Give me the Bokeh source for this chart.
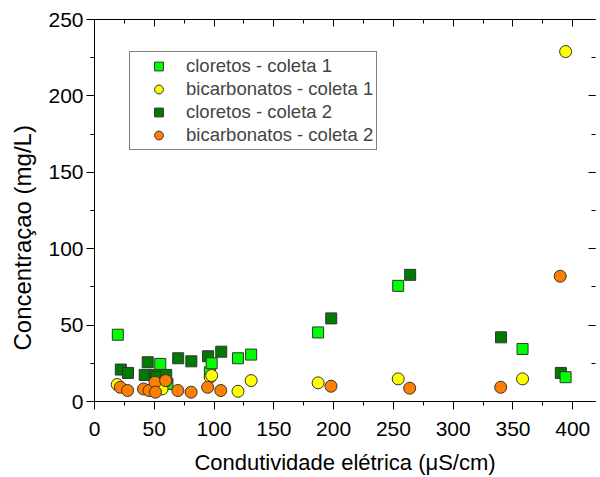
from bokeh.plotting import figure
from bokeh.models import (LinearAxis, SingleIntervalTicker, Range1d, Legend, LegendItem,
                          CustomLabelingPolicy, Title)
from bokeh.embed import file_html
from bokeh.resources import INLINE

# ---- data ----
c1_x = [19.5, 55, 61, 96.5, 98, 120, 131, 187, 254, 358, 394]
c1_cloretos = [43.7, 24.6, 11.5, 19.1, 25.0, 28.3, 30.7, 45.2, 75.7, 34.4, 15.9]
c1_x_bic = [19, 56.5, 60, 96.8, 98, 120, 131, 187, 254, 358, 394]
c1_bicarbonatos = [11.1, 8.2, 13.7, 15.9, 17.0, 6.7, 13.7, 12.2, 14.8, 14.8, 229]

c2_x = [22, 28, 42, 44.5, 50.5, 52, 60, 70, 81, 95, 106, 198, 264, 340, 390]
c2_cloretos = [20.9, 18.7, 17.4, 25.7, 17.4, 16.0, 17.4, 28.3, 26.3, 29.6, 32.6, 54.4, 82.9, 42.0, 18.7]
c2_x_bic = [21.6, 27.7, 41, 45.6, 50.6, 51, 59.5, 69.7, 80.8, 94.6, 105.6, 197.8, 263.6, 339.7, 389.5]
c2_bicarbonatos = [9.3, 7.2, 8.2, 7.2, 12.6, 6.1, 13.7, 7.2, 6.1, 9.3, 7.2, 10.0, 8.7, 9.3, 82.0]

labels = ["cloretos - coleta 1", "bicarbonatos - coleta 1",
          "cloretos - coleta 2", "bicarbonatos - coleta 2"]
x_label = "Condutividade elétrica (μS/cm)"
y_label = "Concentraçao (mg/L)"

FONT = "Liberation Sans"

p = figure(width=600, height=477, output_backend="svg", toolbar_location=None,
           x_range=Range1d(0, 419), y_range=Range1d(0, 250),
           min_border_left=94, min_border_top=19, min_border_right=0,
           min_border_bottom=75, x_axis_location="below", y_axis_location="left")
p.outline_line_color = None
p.xgrid.visible = False
p.ygrid.visible = False
p.background_fill_color = "white"
p.border_fill_color = "white"

p.xaxis.ticker = SingleIntervalTicker(interval=50, num_minor_ticks=2)
p.yaxis.ticker = SingleIntervalTicker(interval=50, num_minor_ticks=2)

for ax in (p.xaxis[0], p.yaxis[0]):
    ax.axis_line_color = "black"
    ax.major_tick_line_color = "black"
    ax.minor_tick_line_color = "black"
    ax.major_tick_out = 8
    ax.major_tick_in = 0
    ax.minor_tick_out = 4
    ax.minor_tick_in = 0
    ax.major_label_text_font = FONT
    ax.major_label_text_font_size = "21px"
    ax.major_label_text_color = "black"
    ax.axis_label_text_font = FONT
    ax.axis_label_text_font_style = "normal"
    ax.axis_label_text_color = "black"

p.xaxis.axis_label = x_label
p.xaxis.axis_label_text_font_size = "22px"
p.xaxis.major_label_standoff = 12
p.xaxis.axis_label_standoff = 11
p.yaxis.major_label_standoff = 3

ytitle = Title(text=y_label, align="left", offset=51, standoff=16, vertical_align="top",
               text_font=FONT, text_font_size="24px", text_font_style="normal",
               text_color="black")
p.add_layout(ytitle, "left")

top = LinearAxis(ticker=SingleIntervalTicker(interval=50, num_minor_ticks=2),
                 major_label_policy=CustomLabelingPolicy(code="return new Set()"))
right = LinearAxis(ticker=SingleIntervalTicker(interval=50, num_minor_ticks=2),
                   major_label_policy=CustomLabelingPolicy(code="return new Set()"))
for ax in (top, right):
    ax.major_tick_in = 7
    ax.major_tick_out = 0
    ax.minor_tick_in = 4
    ax.minor_tick_out = 0
    ax.major_label_text_font_size = "1px"
    ax.major_label_standoff = 0
    ax.major_tick_line_color = "black"
    ax.minor_tick_line_color = "black"
top.axis_line_color = "black"
right.axis_line_color = None
p.add_layout(top, "above")
p.add_layout(right, "right")

LG = "#00FF00"
DG = "#007A00"
YE = "#FFFF00"
OR = "#FF7F00"

r_c2 = p.scatter(c2_x, c2_cloretos, marker="square", size=11, fill_color=DG,
                 line_color="#333333", line_width=1)
r_c1 = p.scatter(c1_x, c1_cloretos, marker="square", size=11, fill_color=LG,
                 line_color="#333333", line_width=1)
r_b1 = p.scatter(c1_x_bic, c1_bicarbonatos, marker="circle", size=12, fill_color=YE,
                 line_color="#333333", line_width=1)
r_b2 = p.scatter(c2_x_bic, c2_bicarbonatos, marker="circle", size=12, fill_color=OR,
                 line_color="#333333", line_width=1)

legend = Legend(items=[LegendItem(label=labels[0], renderers=[r_c1]),
                       LegendItem(label=labels[1], renderers=[r_b1]),
                       LegendItem(label=labels[2], renderers=[r_c2]),
                       LegendItem(label=labels[3], renderers=[r_b2])],
                location=(35, 251), margin=0, padding=3, spacing=1,
                glyph_width=51, glyph_height=22, label_height=22, label_standoff=2,
                label_text_font=FONT, label_text_font_size="18.5px",
                border_line_color="black", border_line_width=1,
                background_fill_color="white", background_fill_alpha=1)
p.add_layout(legend, "center")

open("out.html", "w").write(file_html(p, INLINE))
